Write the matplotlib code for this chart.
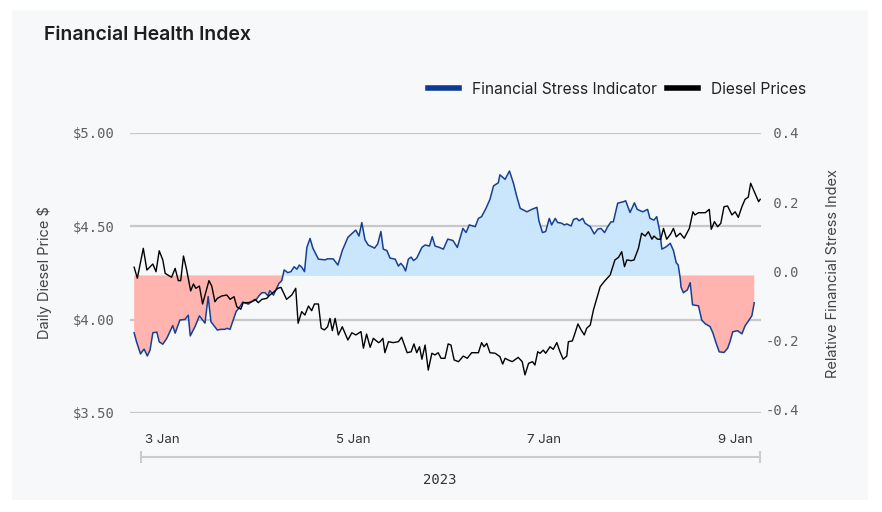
import matplotlib
matplotlib.use('Agg')
import matplotlib.pyplot as plt
import matplotlib.dates as mdates
import pandas as pd
import numpy as np
from matplotlib.lines import Line2D
from matplotlib.patches import Rectangle

plt.rcParams['font.family'] = ['Inter', 'DejaVu Sans']
MONO = 'DejaVu Sans Mono'

# hours since 3 Jan 2023 00:00 and readings
stress_hours = [-7.0, -6.4, -5.4, -4.5, -3.7, -3.0, -2.3, -1.3, -0.7, 0.2,
                1.2, 2.7, 3.3, 4.5, 5.8, 6.6, 7.1, 8.3, 9.4, 10.8,
                11.6, 12.3, 13.9, 14.8, 15.8, 16.3, 17.1, 18.6, 19.6, 20.3,
                21.7, 22.5, 23.6, 24.5, 25.1, 25.9, 26.6, 27.1, 28.0, 28.6,
                29.4, 30.1, 30.7, 31.6, 32.4, 33.2, 33.9, 34.5, 35.1, 35.8,
                36.4, 37.2, 37.9, 39.3, 41.0, 41.6, 43.0, 44.2, 45.3, 46.7,
                47.8, 48.7, 49.5, 50.2, 51.0, 51.8, 53.4, 54.2, 55.0, 55.6,
                56.5, 57.3, 58.6, 59.4, 60.0, 60.6, 61.2, 61.9, 62.6, 63.2,
                64.0, 65.3, 66.1, 67.2, 67.9, 68.6, 69.7, 70.7, 71.8, 73.1,
                74.2, 75.6, 76.4, 77.2, 78.7, 79.5, 80.3, 81.4, 82.4, 83.3,
                84.5, 84.9, 86.2, 87.3, 88.3, 89.1, 90.0, 91.7, 92.9, 94.2,
                94.7, 95.6, 96.4, 97.3, 97.9, 98.8, 99.4, 100.4, 101.1, 101.7,
                102.8, 103.4, 104.2, 104.8, 105.7, 106.3, 107.6, 108.6, 109.5, 110.3,
                111.2, 112.0, 112.8, 113.4, 114.5, 115.9, 116.5, 117.6, 118.7, 119.4,
                120.8, 122.0, 122.6, 123.6, 124.3, 125.0, 125.6, 126.7, 127.7, 128.5,
                129.2, 129.7, 130.2, 130.4, 131.0, 132.0, 132.7, 133.3, 134.8, 135.6,
                136.5, 137.7, 138.4, 139.2, 140.0, 141.2, 142.1, 142.7, 143.4, 144.6,
                145.7, 146.5, 147.6, 148.2, 148.8]
stress = [-0.178, -0.204, -0.239, -0.225, -0.245, -0.228, -0.178, -0.176, -0.204, -0.211,
          -0.194, -0.157, -0.179, -0.141, -0.139, -0.127, -0.187, -0.160, -0.129, -0.150,
          -0.073, -0.146, -0.170, -0.168, -0.168, -0.165, -0.168, -0.117, -0.102, -0.089,
          -0.095, -0.088, -0.083, -0.069, -0.062, -0.062, -0.071, -0.056, -0.069, -0.054,
          -0.035, -0.027, 0.004, -0.004, -0.001, 0.013, 0.006, 0.018, 0.012, -0.001,
          0.069, 0.095, 0.067, 0.035, 0.033, 0.036, 0.036, 0.018, 0.060, 0.098,
          0.110, 0.119, 0.102, 0.141, 0.091, 0.076, 0.067, 0.079, 0.115, 0.064,
          0.060, 0.038, 0.035, 0.015, 0.023, 0.015, 0.001, 0.035, 0.041, 0.031,
          0.038, 0.069, 0.076, 0.073, 0.100, 0.073, 0.069, 0.064, 0.093, 0.089,
          0.069, 0.124, 0.112, 0.134, 0.129, 0.153, 0.158, 0.182, 0.208, 0.247,
          0.256, 0.279, 0.266, 0.290, 0.255, 0.218, 0.182, 0.172, 0.179, 0.185,
          0.146, 0.112, 0.115, 0.153, 0.134, 0.153, 0.141, 0.139, 0.134, 0.137,
          0.131, 0.150, 0.153, 0.146, 0.153, 0.139, 0.129, 0.108, 0.122, 0.124,
          0.112, 0.129, 0.143, 0.143, 0.197, 0.201, 0.204, 0.170, 0.198, 0.179,
          0.172, 0.179, 0.153, 0.148, 0.158, 0.119, 0.064, 0.071, 0.081, 0.060,
          0.025, 0.018, -0.020, -0.046, -0.062, -0.054, -0.033, -0.097, -0.100, -0.141,
          -0.152, -0.160, -0.178, -0.207, -0.233, -0.235, -0.223, -0.204, -0.175, -0.172,
          -0.181, -0.158, -0.139, -0.129, -0.091]
stress_base = -0.012

diesel_hours = [-7.0, -6.2, -4.7, -3.8, -2.3, -1.5, -0.7, 0.2, 0.8, 2.4,
                3.3, 4.1, 4.7, 5.4, 6.2, 7.2, 7.9, 8.5, 9.4, 10.2,
                11.1, 11.8, 12.5, 13.3, 13.9, 15.0, 16.3, 17.1, 18.1, 18.8,
                19.8, 20.4, 21.7, 22.5, 23.4, 24.2, 25.1, 26.3, 27.1, 28.2,
                29.1, 29.9, 31.3, 32.6, 33.6, 34.2, 35.1, 35.9, 36.8, 37.6,
                38.3, 39.3, 40.0, 40.8, 41.6, 42.2, 42.8, 43.5, 44.3, 45.3,
                46.7, 47.7, 48.7, 50.0, 50.6, 51.4, 52.3, 53.1, 54.4, 54.8,
                55.5, 56.0, 56.9, 58.1, 59.4, 60.2, 61.6, 62.6, 63.3, 64.0,
                64.7, 65.3, 66.1, 66.9, 67.8, 68.6, 69.4, 70.1, 71.1, 71.9,
                72.6, 73.4, 74.5, 75.7, 76.7, 77.8, 79.5, 80.3, 80.9, 81.6,
                82.4, 83.7, 84.9, 85.6, 86.2, 87.0, 88.0, 89.5, 90.5, 91.2,
                92.1, 93.1, 93.7, 94.4, 95.0, 95.8, 96.4, 97.5, 98.3, 99.2,
                100.0, 100.8, 101.7, 102.1, 103.1, 103.8, 104.5, 105.3, 106.1, 106.7,
                107.6, 108.4, 110.1, 111.3, 112.6, 113.8, 114.7, 115.5, 116.2, 116.8,
                117.9, 118.6, 119.7, 120.5, 121.4, 122.2, 123.1, 123.6, 124.5, 125.3,
                126.0, 126.8, 127.8, 128.5, 129.2, 130.2, 131.2, 132.5, 133.4, 133.9,
                134.8, 136.5, 137.5, 138.0, 138.8, 139.6, 140.4, 141.2, 142.1, 143.2,
                144.0, 144.8, 145.7, 146.5, 147.3, 147.9, 148.8, 149.9, 150.3]
diesel = [4.281, 4.222, 4.382, 4.266, 4.298, 4.257, 4.369, 4.320, 4.248, 4.227,
          4.275, 4.209, 4.209, 4.341, 4.266, 4.154, 4.191, 4.168, 4.180, 4.084,
          4.155, 4.209, 4.180, 4.096, 4.114, 4.127, 4.132, 4.109, 4.123, 4.069,
          4.056, 4.091, 4.091, 4.096, 4.109, 4.091, 4.109, 4.114, 4.132, 4.150,
          4.168, 4.173, 4.109, 4.132, 4.168, 3.981, 4.043, 4.025, 4.073, 4.048,
          4.084, 4.084, 3.954, 3.945, 3.962, 4.007, 3.941, 4.007, 3.918, 3.962,
          3.891, 3.930, 3.918, 3.936, 3.847, 3.923, 3.852, 3.900, 3.877, 3.882,
          3.900, 3.823, 3.882, 3.877, 3.882, 3.906, 3.823, 3.828, 3.870, 3.823,
          3.855, 3.788, 3.864, 3.730, 3.820, 3.811, 3.823, 3.793, 3.793, 3.870,
          3.864, 3.784, 3.775, 3.805, 3.793, 3.823, 3.823, 3.877, 3.855, 3.873,
          3.823, 3.820, 3.802, 3.762, 3.793, 3.784, 3.775, 3.798, 3.775, 3.704,
          3.766, 3.775, 3.757, 3.828, 3.820, 3.837, 3.820, 3.855, 3.841, 3.877,
          3.828, 3.788, 3.805, 3.882, 3.886, 3.930, 3.977, 3.945, 3.918, 3.954,
          3.971, 4.052, 4.177, 4.209, 4.239, 4.320, 4.334, 4.364, 4.284, 4.320,
          4.316, 4.320, 4.382, 4.463, 4.448, 4.471, 4.431, 4.448, 4.431, 4.431,
          4.489, 4.431, 4.459, 4.489, 4.444, 4.463, 4.436, 4.489, 4.578, 4.561,
          4.573, 4.573, 4.591, 4.484, 4.525, 4.498, 4.516, 4.605, 4.609, 4.561,
          4.578, 4.548, 4.605, 4.645, 4.656, 4.731, 4.686, 4.632, 4.645]

price_ticks = [3.5, 4.0, 4.5, 5.0]
stress_ticks = [-0.4, -0.2, 0.0, 0.2, 0.4]
day_ticks = ['2023-01-03', '2023-01-05', '2023-01-07', '2023-01-09']

start = pd.Timestamp('2023-01-03')
stress_t = start + pd.to_timedelta(stress_hours, unit='h')
diesel_t = start + pd.to_timedelta(diesel_hours, unit='h')
stress = np.array(stress)

W, H = 882, 512
fig = plt.figure(figsize=(W / 100, H / 100), dpi=100)
fig.patch.set_facecolor('white')
fig.patches.append(Rectangle((12 / W, 12 / H), 856 / W, 490 / H, transform=fig.transFigure,
                             facecolor='#f7f8fa', edgecolor='none', zorder=-10))

ax1 = fig.add_axes([130 / W, 99 / H, 631 / W, 280 / H])
ax2 = ax1.twinx()
ax1.set_zorder(2)
ax2.set_zorder(1)
ax1.patch.set_visible(False)
ax2.patch.set_visible(False)

# gridlines follow the price axis but sit under the fills
for p in price_ticks:
    ax2.plot([0, 1], [p, p], transform=ax1.get_yaxis_transform(), color='#c8c8c8', lw=1.6, zorder=0)

ax2.fill_between(stress_t, stress, stress_base, where=stress >= stress_base, interpolate=True,
                 color='#c9e6fc', lw=0, zorder=1)
ax2.fill_between(stress_t, stress, stress_base, where=stress <= stress_base, interpolate=True,
                 color='#ffb4af', lw=0, zorder=1)
ax2.plot(stress_t, stress, color='#173f94', lw=1.1, zorder=2)
ax1.plot(diesel_t, diesel, color='black', lw=1.0, zorder=3)

ax1.set_xlim(start + pd.Timedelta(hours=-8.04), start + pd.Timedelta(hours=150.5))
ax1.set_ylim(3.5, 5.0)
ax2.set_ylim(-0.41, 0.40)

for ax in (ax1, ax2):
    for s in ax.spines.values():
        s.set_visible(False)
    ax.tick_params(length=0)

ax1.set_yticks(price_ticks)
ax1.set_yticklabels(['$%.2f' % v for v in price_ticks], family=MONO, fontsize=10, color='#606060')
ax1.tick_params(axis='y', pad=11)
ax2.set_yticks(stress_ticks)
ax2.set_yticklabels([('%.1f' % v) if v < 0 else (' %.1f' % v) for v in stress_ticks],
                    family=MONO, fontsize=10, color='#606060')
ax2.tick_params(axis='y', pad=3)

ax1.set_xticks(pd.to_datetime(day_ticks))
ax1.xaxis.set_major_formatter(mdates.DateFormatter('%-d %b'))
ax1.tick_params(axis='x', pad=15, labelsize=9.5, labelcolor='#333333')

ax1.set_ylabel('Daily Diesel Price $', fontsize=10.5, color='#444444')
ax1.yaxis.set_label_coords(-0.124, 0.5)
ax2.set_ylabel('Relative Financial Stress Index', fontsize=10.5, color='#444444')
ax2.yaxis.set_label_coords(1.103, 0.5)

# year bracket under the date labels
ax1.plot([0.0174, 0.998], [-0.157, -0.157], transform=ax1.transAxes, clip_on=False, color='#cccccc', lw=1.5)
for xb in (0.0174, 0.998):
    ax1.plot([xb, xb], [-0.139, -0.175], transform=ax1.transAxes, clip_on=False, color='#cccccc', lw=1.5)
fig.text(440 / W, 1 - 480 / H, '2023', family=MONO, fontsize=10, color='#333333', ha='center', va='center')

fig.text(44 / W, 1 - 35 / H, 'Financial Health Index', fontsize=14, fontweight='semibold',
         color='#1e1e1e', ha='left', va='center')

handles = [Line2D([], [], color='#0d3a94', lw=4), Line2D([], [], color='black', lw=4)]
fig.legend(handles, ['Financial Stress Indicator', 'Diesel Prices'], loc='center right',
           bbox_to_anchor=(806 / W, 1 - 89 / H), ncol=2, frameon=False, fontsize=11.2,
           handlelength=2.0, handletextpad=0.8, columnspacing=0.7, borderaxespad=0, borderpad=0,
           labelcolor='#222222')

fig.savefig('out.png', dpi=100, facecolor=fig.get_facecolor())
